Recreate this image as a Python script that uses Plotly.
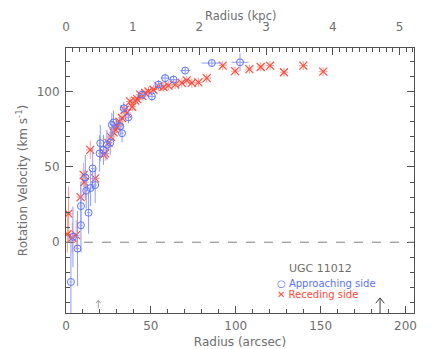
import plotly.graph_objects as go

# Approaching side (blue)
app_r = [2.9, 4.1, 6.8, 8.8, 8.8, 13.3, 11.9, 14.5, 15.7, 17.2, 11.4, 19.8, 20.2, 22.1, 24.1, 26.1, 27.0, 28.0, 32.0, 33.0, 34.0, 36.8, 44.7, 50.6, 54.5, 58.4, 63.3, 70.2, 85.9, 102.5]
app_v = [-26.4, 3.6, -4.2, 11.3, 24.0, 19.6, 34.2, 36.0, 49.0, 38.0, 43.0, 59.0, 65.8, 61.3, 64.7, 66.2, 78.0, 79.5, 77.0, 72.4, 89.0, 83.0, 98.0, 96.9, 104.7, 109.0, 108.0, 114.0, 119.0, 119.5]
app_er = [1, 1, 1, 1, 1, 1, 1, 1, 1, 1, 1, 1, 1, 1, 1, 1, 1, 1, 1, 1, 1.5, 1.5, 2, 2, 2, 2.5, 2.5, 3, 6, 5]
app_ev = [30, 20, 25, 18, 16, 14, 12, 12, 14, 12, 15, 12, 12, 10, 10, 8, 8, 8, 6, 6, 4, 4, 3, 3, 3, 3, 3, 2, 2, 6]

# Receding side (red)
rec_r = [1.5, 0.8, 3.7, 6.0, 8.6, 10.4, 10.8, 14.3, 17.2, 22.1, 23.1, 25.0, 26.5, 28.0, 29.0, 30.0, 31.5, 33.0, 34.5, 35.9, 37.8, 39.0, 40.8, 42.0, 43.7, 45.0, 46.6, 48.6, 51.5, 54.5, 57.4, 60.3, 64.3, 68.2, 71.1, 74.1, 78.0, 82.9, 92.3, 99.6, 108.0, 114.7, 120.2, 128.4, 139.8, 151.5]
rec_v = [19.0, 5.3, 3.0, 4.7, 30.0, 44.7, 40.0, 61.3, 42.4, 58.0, 59.0, 66.0, 70.0, 73.0, 75.0, 77.0, 80.0, 82.5, 88.0, 85.8, 93.5, 90.0, 94.0, 95.0, 98.0, 97.0, 99.1, 100.2, 101.3, 103.5, 103.1, 104.0, 104.7, 105.8, 107.5, 105.8, 106.2, 109.0, 117.3, 113.6, 115.0, 116.4, 117.3, 112.9, 117.3, 113.3]
rec_er = [2.5] * len(rec_r)
rec_ev = [18, 12, 10, 10, 8, 8, 8, 6, 6, 5, 5, 5, 5, 5, 4, 4, 4, 4, 4, 4, 3, 3, 3, 3, 3, 3, 3, 3, 3, 3, 3, 3, 3, 3, 3, 3, 3, 3, 3, 3, 3, 3, 3, 3, 3, 3]

# marker arrows along the radius axis (arcsec)
arrow_r = [19, 185]

ARCSEC_PER_KPC = 39.3
XMAX = 205
YMIN, YMAX = -47, 129

GRAY = "#6e6e6e"
FONT = "DejaVu Sans"
BLUE = "#5a72ff"
BLUE_LT = "#8c9cff"
RED = "#ff4a3a"
RED_LT = "#ff9a90"

fig = go.Figure()

fig.add_trace(go.Scatter(
    x=rec_r, y=rec_v, mode="markers",
    marker=dict(symbol="x-thin-open", size=8, color=RED, line=dict(color=RED, width=1.2)),
    error_x=dict(type="data", array=rec_er, color=RED_LT, thickness=1, width=0),
    error_y=dict(type="data", array=rec_ev, color=RED_LT, thickness=1, width=0),
    showlegend=False))

fig.add_trace(go.Scatter(
    x=app_r, y=app_v, mode="markers",
    marker=dict(symbol="circle-open", size=7, color=BLUE, line=dict(color=BLUE, width=1)),
    error_x=dict(type="data", array=app_er, color=BLUE_LT, thickness=1, width=0),
    error_y=dict(type="data", array=app_ev, color=BLUE_LT, thickness=1, width=0),
    showlegend=False))

# dummy trace for the top axis
fig.add_trace(go.Scatter(x=[0], y=[0], xaxis="x2", mode="markers",
                         marker=dict(opacity=0), showlegend=False, hoverinfo="skip"))

fig.add_shape(type="line", x0=0, x1=XMAX, y0=0, y1=0, xref="x", yref="y",
              line=dict(color="#808080", width=1, dash="dash"))

# arrows drawn as shapes
def arrow(xc, y0, y1, color, hw, hh):
    fig.add_shape(type="line", x0=xc, x1=xc, y0=y0, y1=y1, xref="x", yref="y",
                  line=dict(color=color, width=1))
    fig.add_shape(type="line", x0=xc - hw, x1=xc, y0=y1 - hh, y1=y1, xref="x", yref="y",
                  line=dict(color=color, width=1))
    fig.add_shape(type="line", x0=xc + hw, x1=xc, y0=y1 - hh, y1=y1, xref="x", yref="y",
                  line=dict(color=color, width=1))

arrow(arrow_r[0], -44, -38.5, "#a0a0a0", 1.3, 2)
arrow(arrow_r[1], -47, -37, "#404040", 2.5, 3.5)

# legend text
fig.add_annotation(x=130, y=-17.5, xref="x", yref="y", xanchor="left", yanchor="middle",
                   text="UGC 11012", showarrow=False, font=dict(family=FONT, size=11, color=GRAY))
fig.add_annotation(x=123, y=-27.5, xref="x", yref="y", xanchor="left", yanchor="middle",
                   text="○ Approaching side", showarrow=False, font=dict(family=FONT, size=10, color=BLUE))
fig.add_annotation(x=123, y=-34.5, xref="x", yref="y", xanchor="left", yanchor="middle",
                   text="✕ Receding side", showarrow=False, font=dict(family=FONT, size=10, color=RED))

# top axis title
fig.add_annotation(x=0.5, y=1.122, xref="paper", yref="paper", xanchor="center", yanchor="middle",
                   text="Radius (kpc)", showarrow=False, font=dict(family=FONT, size=11.5, color=GRAY))

axis_common = dict(showgrid=False, zeroline=False, showline=True, linecolor="#505050", linewidth=1,
                   ticks="inside", tickcolor="#505050", ticklen=7, automargin=False,
                   tickfont=dict(family=FONT, size=12, color=GRAY))

# page body has an 8px margin; the figure is sized/margined to compensate
fig.update_layout(
    width=428, height=341,
    margin=dict(l=58, r=22, t=40, b=36),
    paper_bgcolor="white", plot_bgcolor="white",
    xaxis=dict(range=[0, XMAX], dtick=50, tick0=0, ticklabelstandoff=2,
               minor=dict(dtick=10, ticks="inside", ticklen=4, tickcolor="#505050"),
               title=dict(text="Radius (arcsec)", font=dict(family=FONT, size=12, color=GRAY), standoff=7),
               **axis_common),
    xaxis2=dict(range=[0, XMAX / ARCSEC_PER_KPC], dtick=1, tick0=0, overlaying="x", side="top",
                ticklabelstandoff=11,
                minor=dict(dtick=0.1, ticks="inside", ticklen=4, tickcolor="#505050"),
                **axis_common),
    yaxis=dict(range=[YMIN, YMAX], dtick=50, tick0=0, mirror="ticks", ticklabelstandoff=3,
               minor=dict(dtick=10, ticks="inside", ticklen=4, tickcolor="#505050"),
               title=dict(text="Rotation Velocity (km s<sup>-1</sup>)", font=dict(family=FONT, size=12, color=GRAY), standoff=6),
               **axis_common),
)

fig.write_html("out.html")
